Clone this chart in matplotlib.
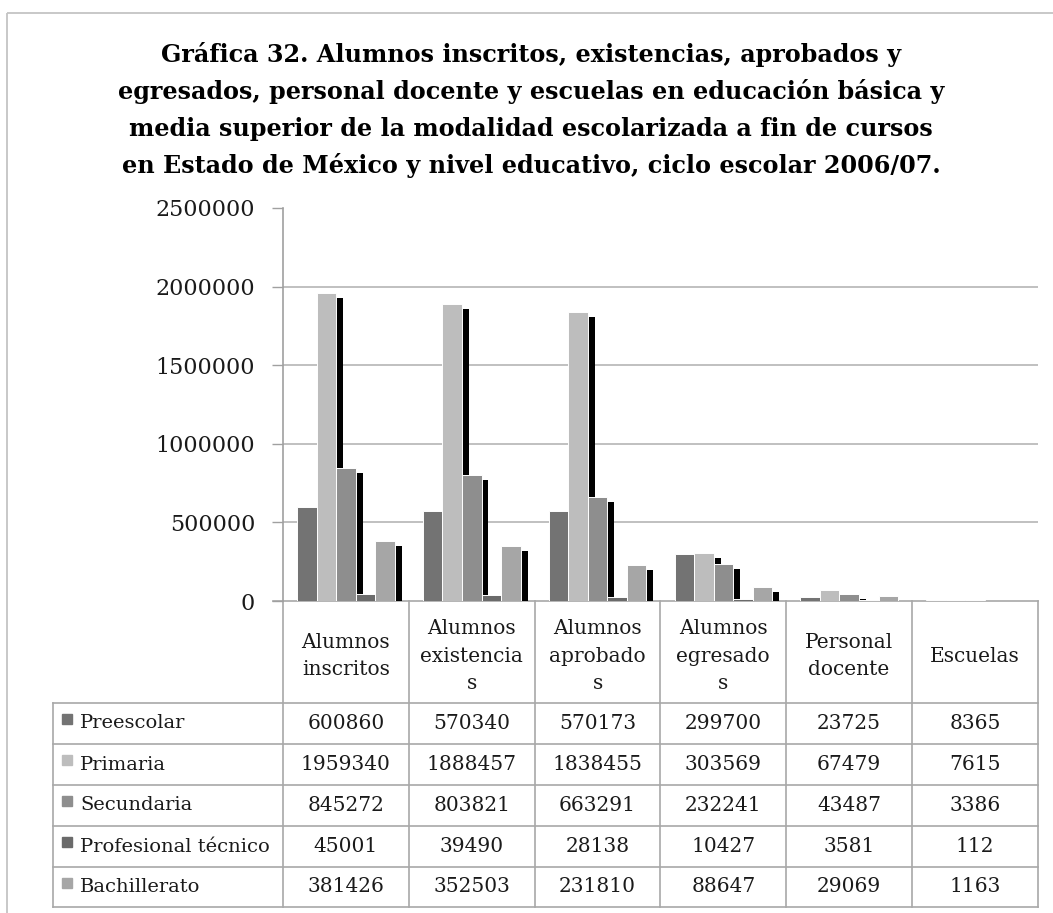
import matplotlib
matplotlib.use("Agg")
import matplotlib.pyplot as plt
from matplotlib.patches import Rectangle

plt.rcParams['font.family'] = ['DejaVu Serif']

# data
categories = ["Alumnos\ninscritos", "Alumnos\nexistencia\ns", "Alumnos\naprobado\ns",
              "Alumnos\negresado\ns", "Personal\ndocente", "Escuelas"]
series_names = ["Preescolar", "Primaria", "Secundaria", "Profesional técnico", "Bachillerato"]
preescolar = [600860, 570340, 570173, 299700, 23725, 8365]
primaria = [1959340, 1888457, 1838455, 303569, 67479, 7615]
secundaria = [845272, 803821, 663291, 232241, 43487, 3386]
profesional = [45001, 39490, 28138, 10427, 3581, 112]
bachillerato = [381426, 352503, 231810, 88647, 29069, 1163]
yticks = [0, 500000, 1000000, 1500000, 2000000, 2500000]
title_lines = [
    "Gráfica 32. Alumnos inscritos, existencias, aprobados y",
    "egresados, personal docente y escuelas en educación básica y",
    "media superior de la modalidad escolarizada a fin de cursos",
    "en Estado de México y nivel educativo, ciclo escolar 2006/07.",
]

series = [preescolar, primaria, secundaria, profesional, bachillerato]
colors = ["#737373", "#bdbdbd", "#8e8e8e", "#6a6a6a", "#a6a6a6"]
txt = "#1a1a1a"

W, H = 1053, 913
fig = plt.figure(figsize=(W / 100, H / 100), dpi=100)

# background layer in pixel coords: border, title, table
bg = fig.add_axes([0, 0, 1, 1])
bg.set_xlim(0, W)
bg.set_ylim(H, 0)
bg.axis("off")

bg.add_patch(Rectangle((7, 13), W + 20, H + 20, fill=False, ec="#c4c4c4", lw=1.3))

for i, line in enumerate(title_lines):
    bg.text(531, 62 + i * 37, line, ha="center", va="baseline",
            fontsize=17.2, fontweight="bold", color="black")

# plot area
left, right, top, bottom = 283, 1038, 208, 601
ax = fig.add_axes([left / W, 1 - bottom / H, (right - left) / W, (bottom - top) / H])
ax.patch.set_alpha(0)
ax.set_xlim(0, len(categories))
ax.set_ylim(0, 2500000)

w = 0.155
dx = 7 / 126
dy = 5 * 2500000 / (bottom - top)
for j, vals in enumerate(series):
    xs = [i + 0.5 + (j - 2) * w for i in range(len(categories))]
    ax.bar([x + dx for x in xs], [max(v - dy, 0) for v in vals], width=w,
           color="black", linewidth=0, zorder=1)
for j, vals in enumerate(series):
    xs = [i + 0.5 + (j - 2) * w for i in range(len(categories))]
    ax.bar(xs, vals, width=w, color=colors[j], edgecolor="white", linewidth=0.7, zorder=2)

for t in yticks[1:-1]:
    ax.axhline(t, color="#b5b5b5", lw=1.2, zorder=0)
ax.set_yticks(yticks)
ax.set_yticklabels([str(t) for t in yticks], fontsize=16, color=txt)
ax.tick_params(axis="y", length=8, width=1, color="#a0a0a0", pad=12)
ax.set_xticks([])
for s in ["top", "right", "bottom"]:
    ax.spines[s].set_visible(False)
ax.spines["left"].set_color("#a0a0a0")
ax.spines["left"].set_linewidth(1.2)

# data table under the plot
col_x = [left + 125.8 * k for k in range(len(categories) + 1)]
row_y = [601, 703, 744, 785, 826, 867, 907]
lc = "#a8a8a8"
bg.plot([273, right], [601, 601], color=lc, lw=1.2)
for x in col_x:
    bg.plot([x, x], [601, row_y[-1]], color=lc, lw=1.2)
bg.plot([53, 53], [row_y[1], row_y[-1]], color=lc, lw=1.2)
for y in row_y[1:]:
    bg.plot([53, right], [y, y], color=lc, lw=1.2)

for k, cat in enumerate(categories):
    cx = (col_x[k] + col_x[k + 1]) / 2
    bg.text(cx, 656, cat, ha="center", va="center", fontsize=14.5,
            linespacing=1.55, color=txt)

for j, (name, vals) in enumerate(zip(series_names, series)):
    cy = (row_y[j + 1] + row_y[j + 2]) / 2
    bg.add_patch(Rectangle((62, cy - 9), 10, 10, color=colors[j]))
    bg.text(80, cy, name, ha="left", va="center", fontsize=14, color=txt)
    for k, v in enumerate(vals):
        cx = (col_x[k] + col_x[k + 1]) / 2
        bg.text(cx, cy, str(v), ha="center", va="center", fontsize=14.5, color=txt)

fig.savefig("out.png", dpi=100)
